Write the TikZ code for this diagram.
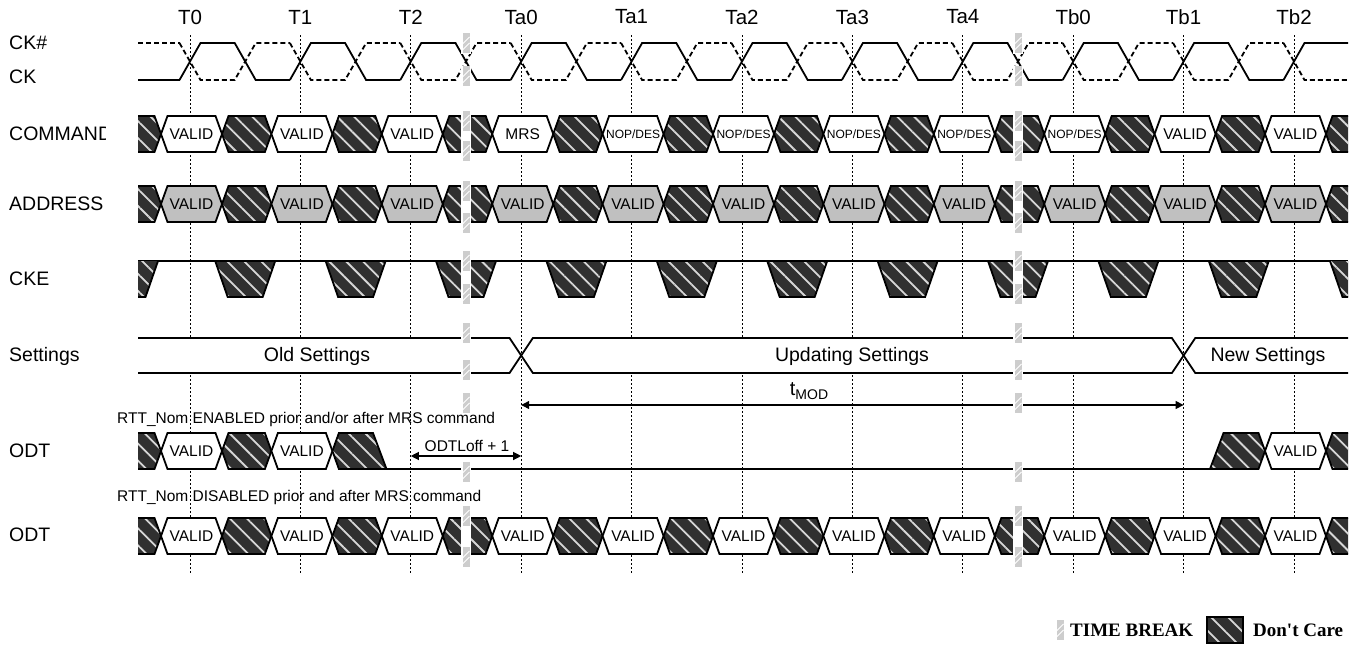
\documentclass[tikz,border=0pt]{standalone}
\usepackage{fontspec}
\setmainfont{Liberation Sans}
\newfontfamily\legendfont{Liberation Serif}
\usetikzlibrary{arrows.meta,patterns.meta}
\definecolor{dcdark}{RGB}{48,48,48}
\definecolor{dcstripe}{RGB}{215,215,215}
\definecolor{addrgray}{RGB}{192,192,192}
\definecolor{tbgray}{RGB}{205,205,205}
\def\per{110.4}
\def\slw{6.5}
\def\hgt{18}
\def\labV{VALID}
\def\labM{MRS}
\def\labN{{\fontsize{12}{12}\selectfont NOP/DES}}
\tikzset{
  sig/.style={line width=1.8pt, line join=miter, line cap=butt},
  dcfill/.style={preaction={fill=dcdark}, pattern={Lines[angle=-45,distance=12pt,line width=1.8pt]}, pattern color=dcstripe},
  dc/.style={dcfill, draw=black, sig},
  validw/.style={fill=white, draw=black, sig},
  validg/.style={fill=addrgray, draw=black, sig},
  gridline/.style={line width=1pt, dash pattern=on 2pt off 2pt},
  ckdash/.style={dash pattern=on 5pt off 3pt},
  lbl/.style={font=\fontsize{19.5}{19.5}\selectfont, anchor=west, inner sep=0pt},
  tlbl/.style={font=\fontsize{20.5}{20.5}\selectfont, inner sep=0pt},
  setlbl/.style={font=\fontsize{19.5}{19.5}\selectfont, inner sep=0pt},
  bustext/.style={font=\fontsize{15.5}{15.5}\selectfont, inner sep=0pt},
  smalltext/.style={font=\fontsize{15.5}{15.5}\selectfont, inner sep=0pt},
  dimarrow/.style={line width=1.2pt, {Triangle[length=8pt,width=8pt]}-{Triangle[length=8pt,width=8pt]}},
}
\newcommand\hexcell[4]{%
  \draw[#4] (#1,#3) -- ({#1+\slw},{#3-\hgt}) -- ({#2-\slw},{#3-\hgt}) -- (#2,#3) -- ({#2-\slw},{#3+\hgt}) -- ({#1+\slw},{#3+\hgt}) -- cycle;}
\newcommand\busrow[2]{%
  \fill[dcfill] (138,{#1-\hgt}) -- (154.5,{#1-\hgt}) -- (161,#1) -- (154.5,{#1+\hgt}) -- (138,{#1+\hgt}) -- cycle;
  \draw[sig] (138,{#1-\hgt}) -- (154.5,{#1-\hgt}) -- (161,#1) -- (154.5,{#1+\hgt}) -- (138,{#1+\hgt});
  \foreach \k in {0,...,10} {
    \pgfmathsetmacro\xa{190+\k*\per-29}
    \pgfmathsetmacro\xb{190+\k*\per+32}
    \hexcell{\xa}{\xb}{#1}{#2}
    \ifnum\k<10
      \pgfmathsetmacro\xc{190+(\k+1)*\per-29}
      \hexcell{\xb}{\xc}{#1}{dc}
    \fi
  }
  \fill[dcfill] (1326,#1) -- (1332.5,{#1-\hgt}) -- (1348,{#1-\hgt}) -- (1348,{#1+\hgt}) -- (1332.5,{#1+\hgt}) -- cycle;
  \draw[sig] (1348,{#1-\hgt}) -- (1332.5,{#1-\hgt}) -- (1326,#1) -- (1332.5,{#1+\hgt}) -- (1348,{#1+\hgt});
}
\newcommand\tbmark[2]{%
  \fill[white] ({#1-5},{#2-10.5}) rectangle ({#1+5},{#2+10.5});
  \fill[tbgray] ({#1-3.5},{#2-10}) rectangle ({#1+3.5},{#2+10});
  \draw[white,line width=0.8pt] ({#1-3.5},{#2+1}) -- ({#1+3.5},{#2-6});
  \draw[white,line width=0.8pt] ({#1-3.5},{#2+7}) -- ({#1+3.5},{#2});
}
\newcommand\tbstrip[3]{\fill[white] ({#1-5},#2) rectangle ({#1+5},#3);}
\newcommand\timebreak[1]{%
  \tbstrip{#1}{121}{151}\tbstrip{#1}{191}{223}\tbstrip{#1}{261}{294}\tbstrip{#1}{333}{370}\tbstrip{#1}{516}{557}%
  \foreach \yy in {43,76,121,151,191,223,261,294,333,370,403,472,516,557} {\tbmark{#1}{\yy}}%
}
\begin{document}
\begin{tikzpicture}[x=1pt,y=-1pt]
\useasboundingbox (0,0) rectangle (1358,645);
% grid lines and clock labels
\foreach \k/\lb in {0/T0,1/T1,2/T2,3/Ta0,4/Ta1,5/Ta2,6/Ta3,7/Ta4,8/Tb0,9/Tb1,10/Tb2} {
  \draw[gridline] ({190+\k*\per},35) -- ({190+\k*\per},573);
  \node[tlbl] (clk\k) at ({190+\k*\per},17) {\lb};
}
% signal names
\node[lbl] (nckb) at (9,43) {CK\#};
\node[lbl] (nck) at (9,77) {CK};
\begin{scope}
  \clip (0,110) rectangle (105,160);
  \node[lbl] (ncmd) at (9,134) {COMMAND};
\end{scope}
\node[lbl] (naddr) at (9,204) {ADDRESS};
\node[lbl] (ncke) at (9,279) {CKE};
\node[lbl] (nset) at (9,356) {Settings};
\node[lbl] (nodt1) at (9,451) {ODT};
\node[lbl] (nodt2) at (9,535) {ODT};
% CK / CK#
\draw[sig] (138,80) -- (179.5,80);
\draw[sig,ckdash] (138,43) -- (179.5,43);
\foreach \k in {0,...,9} {
  \pgfmathsetmacro\tk{190+\k*\per}
  \draw[sig] ({\tk-10.5},80) -- ({\tk+10.5},43) -- ({\tk+\per/2-10.5},43) -- ({\tk+\per/2+10.5},80) -- ({\tk+\per-10.5},80);
  \draw[sig,ckdash] ({\tk-10.5},43) -- ({\tk+10.5},80) -- ({\tk+\per/2-10.5},80) -- ({\tk+\per/2+10.5},43) -- ({\tk+\per-10.5},43);
}
\draw[sig] (1283.5,80) -- (1304.5,43) -- (1348,43);
\draw[sig,ckdash] (1283.5,43) -- (1304.5,80) -- (1348,80);
% COMMAND
\busrow{134}{validw}
\foreach \k/\lb in {0/\labV,1/\labV,2/\labV,3/\labM,4/\labN,5/\labN,6/\labN,7/\labN,8/\labN,9/\labV,10/\labV} {
  \node[bustext] (cmd\k) at ({190+\k*\per+1.5},134) {\lb};
}
% ADDRESS
\busrow{204}{validg}
\foreach \k in {0,...,10} {
  \node[bustext] (adr\k) at ({190+\k*\per+1.5},204) {VALID};
}
% CKE
\draw[sig] (138,261) -- (1348,261);
\fill[dcfill] (138,261) -- (158,261) -- (145.5,297) -- (138,297) -- cycle;
\draw[sig] (158,261) -- (145.5,297) -- (138,297);
\foreach \k in {0,...,9} {
  \pgfmathsetmacro\cc{190+\k*\per+\per/2}
  \draw[dc] ({\cc-30},261) -- ({\cc+30},261) -- ({\cc+17.5},297) -- ({\cc-17.5},297) -- cycle;
}
\fill[dcfill] (1330,261) -- (1348,261) -- (1348,297) -- (1342.5,297) -- cycle;
\draw[sig] (1330,261) -- (1342.5,297) -- (1348,297);
% Settings
\fill[white] (138,338) -- (509.5,338) -- (521.2,355.5) -- (509.5,373) -- (138,373) -- cycle;
\draw[sig] (138,338) -- (509.5,338) -- (521.2,355.5) -- (509.5,373) -- (138,373);
\draw[sig,fill=white] (521.2,355.5) -- (532.9,338) -- (1171.9,338) -- (1183.6,355.5) -- (1171.9,373) -- (532.9,373) -- cycle;
\fill[white] (1183.6,355.5) -- (1195.3,338) -- (1348,338) -- (1348,373) -- (1195.3,373) -- cycle;
\draw[sig] (1348,338) -- (1195.3,338) -- (1183.6,355.5) -- (1195.3,373) -- (1348,373);
\node[setlbl] (sold) at (317,356) {Old Settings};
\node[setlbl] (supd) at (852,356) {Updating Settings};
\node[setlbl] (snew) at (1268,356) {New Settings};
% tMOD
\coordinate (tmodL) at (521.2,405);
\coordinate (tmodR) at (1183.6,405);
\draw[dimarrow] (tmodL) -- (tmodR);
\node[inner sep=0pt, font=\fontsize{20}{20}\selectfont] (tmod) at (809,391) {t\raisebox{-4.5pt}{\fontsize{14}{14}\selectfont MOD}};
% ODT (enabled)
\fill[dcfill] (138,433) -- (154.5,433) -- (161,451) -- (154.5,469) -- (138,469) -- cycle;
\draw[sig] (138,433) -- (154.5,433) -- (161,451) -- (154.5,469) -- (138,469);
\hexcell{161}{222}{451}{validw}
\hexcell{222}{271.4}{451}{dc}
\hexcell{271.4}{332.4}{451}{validw}
\draw[dc] (332.4,451) -- (338.9,433) -- (373,433) -- (386.5,469) -- (338.9,469) -- cycle;
\draw[sig] (386.5,469) -- (1210,469);
\draw[dc] (1210,469) -- (1223.5,433) -- (1258.5,433) -- (1265,451) -- (1258.5,469) -- cycle;
\hexcell{1265}{1326}{451}{validw}
\fill[dcfill] (1326,451) -- (1332.5,433) -- (1348,433) -- (1348,469) -- (1332.5,469) -- cycle;
\draw[sig] (1348,433) -- (1332.5,433) -- (1326,451) -- (1332.5,469) -- (1348,469);
\node[bustext] (odtv0) at (191.5,451) {VALID};
\node[bustext] (odtv1) at (301.9,451) {VALID};
\node[bustext] (odtv10) at (1295.5,451) {VALID};
\coordinate (offL) at (410.8,456);
\coordinate (offR) at (521.2,456);
\draw[dimarrow] (offL) -- (offR);
% ODT (disabled)
\busrow{536}{validw}
\foreach \k in {0,...,10} {
  \node[bustext] (odt\k) at ({190+\k*\per+1.5},536) {VALID};
}
% time breaks
\timebreak{466}
\timebreak{1018}
% texts over breaks
\node[smalltext] (offtxt) at (467,446) {ODTLoff + 1};
\node[smalltext, anchor=west] (rtt1) at (117,419) {RTT\_Nom ENABLED prior and/or after MRS command};
\node[smalltext, anchor=west] (rtt2) at (117,497) {RTT\_Nom DISABLED prior and after MRS command};
% legend
\tbmark{1060}{630}
\node[anchor=west, inner sep=0pt, font=\legendfont\bfseries\fontsize{19}{19}\selectfont] (lgtb) at (1070,630) {TIME BREAK};
\draw[dc] (1207,617) rectangle (1243,643);
\node[anchor=west, inner sep=0pt, font=\legendfont\bfseries\fontsize{19}{19}\selectfont] (lgdc) at (1253,630) {Don't Care};
\end{tikzpicture}
\end{document}
